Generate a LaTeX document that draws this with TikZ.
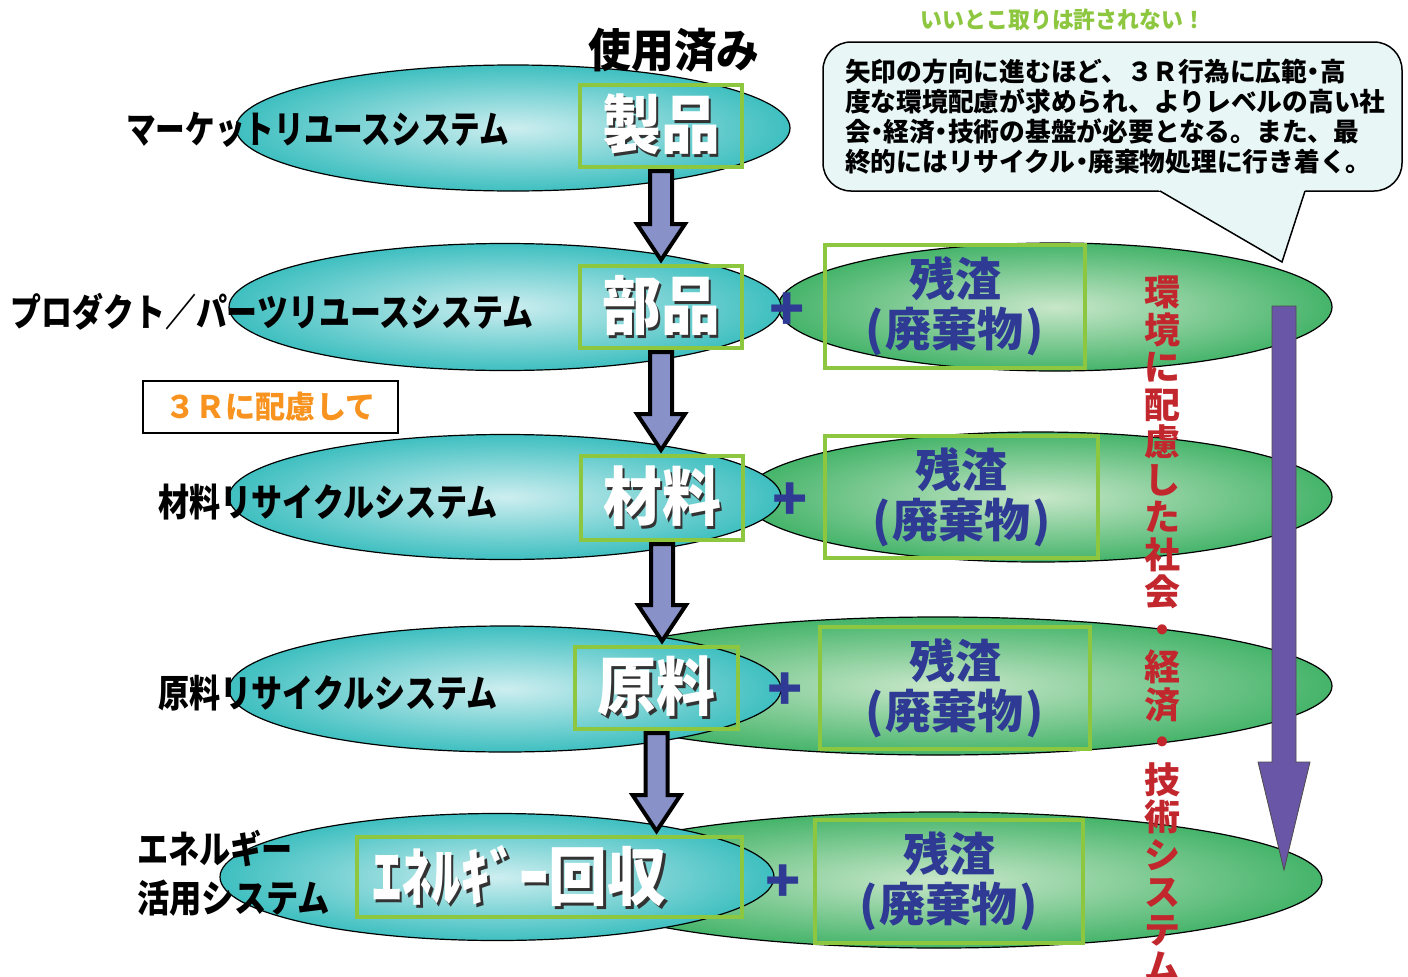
\documentclass[tikz,border=0pt]{standalone}
\usepackage{fontspec}
\setmainfont{Noto Sans CJK JP}
\usepackage{graphicx}
\usetikzlibrary{shapes.geometric,calc}
\definecolor{cyanout}{HTML}{3FBFC0}
\definecolor{cyanin}{HTML}{CDEEF0}
\definecolor{greenout}{HTML}{45B46A}
\definecolor{greenin}{HTML}{C8E7C9}
\definecolor{lime}{HTML}{8DC63F}
\definecolor{arrfill}{HTML}{8891C8}
\definecolor{purp}{HTML}{6A56A6}
\definecolor{navy}{HTML}{2E3A94}
\definecolor{redtx}{HTML}{C1272D}
\definecolor{orangetx}{HTML}{F7931E}
\definecolor{callfill}{HTML}{E9F6F6}
\newcommand\sqz[2]{\scalebox{#1}[1]{#2}}
\newcommand\shtext[1]{\rlap{\kern3pt\raisebox{-3pt}{\textcolor{black!80}{#1}}}\textcolor{white}{#1}}
\newcommand\fsz[2]{\fontsize{#1}{#2}\selectfont}
\newcommand\ndot{\makebox[0.5em][c]{・}}
\begin{document}
\begin{tikzpicture}[x=1pt,y=-1pt,
  cyanell/.style={ellipse, draw=black, line width=1.2pt, inner color=cyanin, outer color=cyanout, inner sep=0},
  greenell/.style={ellipse, draw=black, line width=1.2pt, inner color=greenin, outer color=greenout, inner sep=0},
  limebox/.style={draw=lime, line width=4pt, inner sep=0},
  boxtext/.style={font=\bfseries\fsz{64}{64}, inner sep=0},
  waste/.style={font=\bfseries\fsz{46}{50}, text=navy, align=center, inner sep=0},
  leftlab/.style={font=\bfseries\fsz{38}{44}, text=black, inner sep=0},
  plussign/.style={font=\bfseries\fsz{58}{58}, text=navy, inner sep=0},
  fatarr/.style={fill=arrfill, draw=black, line width=4pt, line join=miter},
  purparr/.style={fill=purp, draw=black!70, line width=0.8pt, line join=miter},
  ]
\useasboundingbox (0,0) rectangle (1408,977);
\fill[white] (0,0) rectangle (1408,977);

% green ellipses
\node[greenell, minimum width=554pt, minimum height=128pt] (g2) at (1055,307) {};
\node[greenell, minimum width=588pt, minimum height=130pt] (g3) at (1038,497) {};
\node[greenell, minimum width=788pt, minimum height=138pt] (g4) at (938,686) {};
\node[greenell, minimum width=766pt, minimum height=136pt] (g5) at (939,880) {};

% cyan ellipses
\node[cyanell, minimum width=554pt, minimum height=126pt] (e1) at (513,128) {};
\node[cyanell, minimum width=552pt, minimum height=127pt] (e2) at (505,307) {};
\node[cyanell, minimum width=552pt, minimum height=125pt] (e3) at (505,497) {};
\node[cyanell, minimum width=552pt, minimum height=126pt] (e4) at (505,689) {};
\node[cyanell, minimum width=554pt, minimum height=127pt] (e5) at (497,877) {};

% cyan boxes
\node[limebox, minimum width=162pt, minimum height=82pt] (b1) at (661,126) {};
\node[limebox, minimum width=162pt, minimum height=82pt] (b2) at (661,307) {};
\node[limebox, minimum width=162pt, minimum height=84pt] (b3) at (662,498) {};
\node[limebox, minimum width=163pt, minimum height=82pt] (b4) at (656.5,688) {};
\node[limebox, minimum width=385pt, minimum height=80pt] (b5) at (549.5,877) {};
\node[boxtext] (t1) at (b1) {\sqz{0.92}{\shtext{製品}}};
\node[boxtext] (t2) at (b2) {\sqz{0.92}{\shtext{部品}}};
\node[boxtext] (t3) at (b3) {\sqz{0.92}{\shtext{材料}}};
\node[boxtext] (t4) at (b4) {\sqz{0.92}{\shtext{原料}}};
\node[boxtext, anchor=west] (t5) at (372,877) {\sqz{0.92}{\shtext{ｴﾈﾙｷﾞｰ回収}}};

% green boxes
\node[limebox, minimum width=260pt, minimum height=123pt] (w2) at (955,306.5) {};
\node[limebox, minimum width=273pt, minimum height=122pt] (w3) at (961.5,497) {};
\node[limebox, minimum width=270pt, minimum height=122pt] (w4) at (955,688) {};
\node[limebox, minimum width=268pt, minimum height=123pt] (w5) at (949,881.5) {};
\node[waste] (wt2) at (w2) {残渣\\(\kern2pt廃棄物\kern2pt)};
\node[waste] (wt3) at (w3) {残渣\\(\kern2pt廃棄物\kern2pt)};
\node[waste] (wt4) at (w4) {残渣\\(\kern2pt廃棄物\kern2pt)};
\node[waste] (wt5) at (w5) {残渣\\(\kern2pt廃棄物\kern2pt)};

% plus signs
\node[plussign] (p2) at (787,312) {+};
\node[plussign] (p3) at (790,502) {+};
\node[plussign] (p4) at (785,692) {+};
\node[plussign] (p5) at (783,884) {+};

% fat down arrows
\foreach \a/\b in {b1/b2,b2/b3,b3/b4,b4/b5}{
  \draw[fatarr] let \p1=(\a.south), \p2=(\b.north) in
    (\x1-11pt,\y1-2pt) -- (\x1+11pt,\y1-2pt) -- (\x1+11pt,\y2+40pt) -- (\x1+24pt,\y2+40pt)
    -- (\x1,\y2+4pt) -- (\x1-24pt,\y2+40pt) -- (\x1-11pt,\y2+40pt) -- cycle;
}

% left labels
\node[leftlab, anchor=west] (l1) at (126,130) {\sqz{0.78}{マーケットリユースシステム}};
\node[leftlab, anchor=west] (l2) at (10,312) {\sqz{0.815}{プロダクト／パーツリユースシステム}};
\node[leftlab, anchor=west] (l3) at (158,502) {\sqz{0.818}{材料リサイクルシステム}};
\node[leftlab, anchor=west] (l4) at (158,693) {\sqz{0.818}{原料リサイクルシステム}};
\node[leftlab, anchor=west] (l5a) at (137,848) {\sqz{0.82}{エネルギー}};
\node[leftlab, anchor=west] (l5b) at (137,898) {\sqz{0.85}{活用システム}};
\node[font=\bfseries\fsz{46}{46}, inner sep=0] (used) at (674,50) {\sqz{0.93}{使用済み}};

% 3R box
\node[draw=black, line width=2.5pt, minimum width=255pt, minimum height=52pt, inner sep=0,
      font=\bfseries\fsz{31}{31}, text=orangetx] (rbox) at (270.5,407) {\sqz{0.97}{３Ｒに配慮して}};

% callout
\node[font=\bfseries\fsz{23}{23}, text=lime, inner sep=0] (title) at (1063,20) {\sqz{0.95}{いいとこ取りは許されない！}};
\node[draw=black, line width=1.5pt, fill=callfill, rounded corners=28pt,
      minimum width=579pt, minimum height=149pt, inner sep=0] (call) at (1112.5,116.5) {};
\coordinate (tailL) at (1160,191);
\coordinate (tailT) at (1282,262);
\coordinate (tailR) at (1305,191);
\fill[callfill] (1156.6,189) -- (tailT) -- (1305.6,189) -- cycle;
\draw[line width=1.5pt, line join=miter] (tailL) -- (tailT) -- (tailR);
\node[font=\bfseries\fsz{26}{30}, align=left, anchor=west, inner sep=0] (calltxt) at (845,117)
  {\sqz{0.99}{矢印の方向に進むほど、３Ｒ行為に広範\ndot 高}\\
   \sqz{0.99}{度な環境配慮が求められ、よりレベルの高い社}\\
   \sqz{0.99}{会\ndot 経済\ndot 技術の基盤が必要となる。また、最}\\
   \sqz{0.99}{終的にはリサイクル\ndot 廃棄物処理に行き着く。}};

% purple arrow
\coordinate (ptop) at (1284,306);
\coordinate (ptip) at (1284,870);
\draw[purparr] let \p1=(ptop), \p2=(ptip) in
  (\x1-12pt,\y1) -- (\x1+12pt,\y1) -- (\x1+12pt,\y2+108pt) -- (\x1+26pt,\y2+108pt)
  -- (\x2,\y2) -- (\x1-26pt,\y2+108pt) -- (\x1-12pt,\y2+108pt) -- cycle;

% vertical red text
\node[font=\bfseries\fsz{36}{37.5}, text=redtx, align=center, inner sep=0] (vert) at (1162,629.5)
  {環\\境\\に\\配\\慮\\し\\た\\社\\会\\・\\経\\済\\・\\技\\術\\シ\\ス\\テ\\ム};
\end{tikzpicture}
\end{document}
